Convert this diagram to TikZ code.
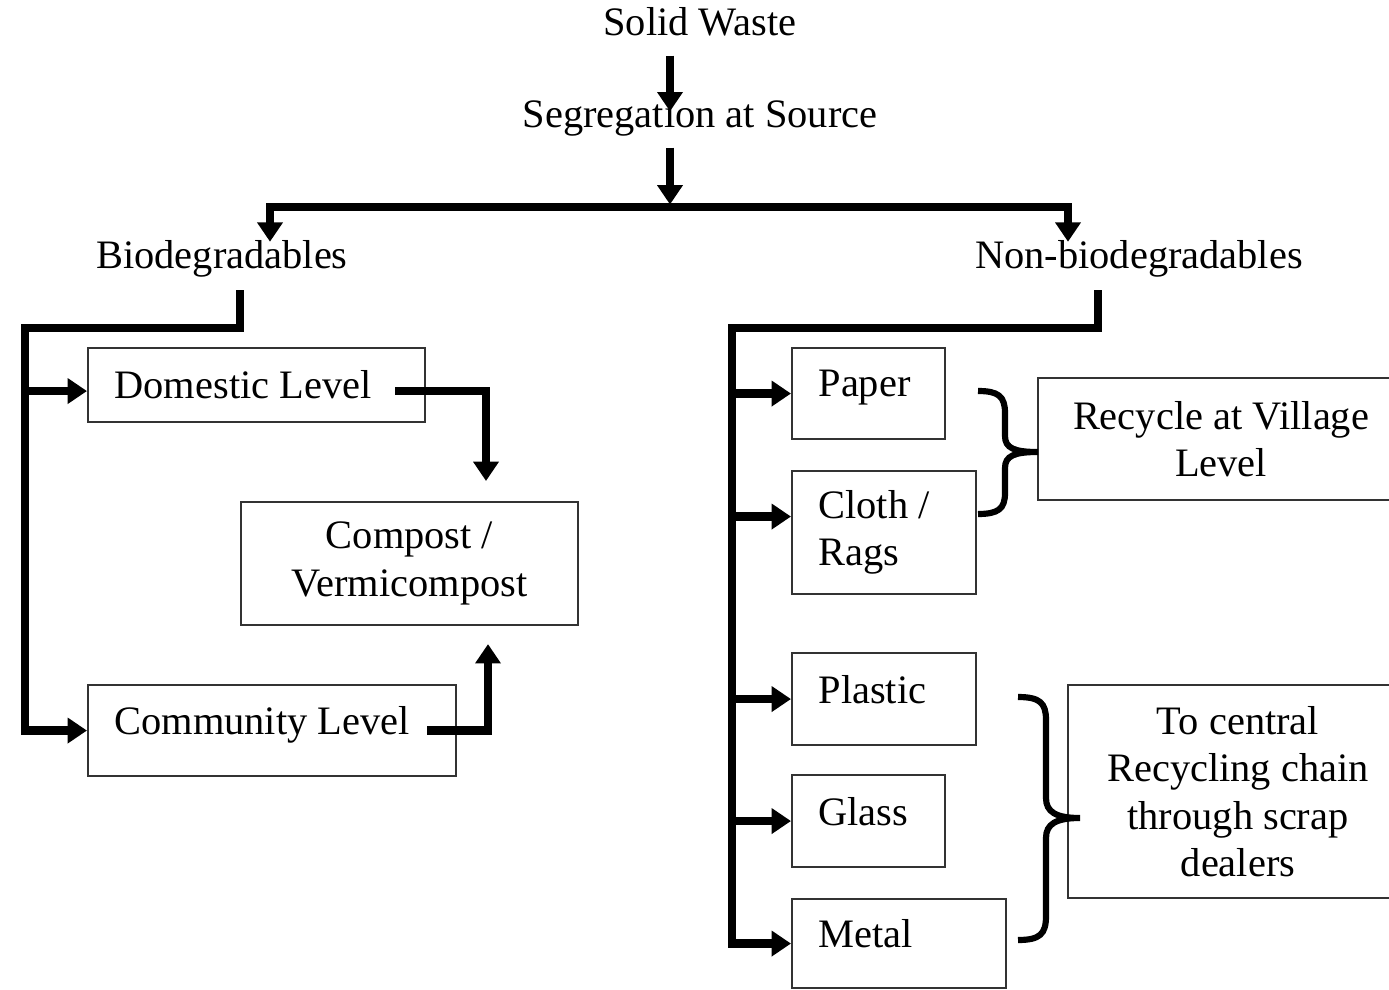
\documentclass[tikz,border=0pt]{standalone}
\usepackage{fontspec}
\setmainfont{Liberation Serif}
\usetikzlibrary{arrows.meta}

\begin{document}
\begin{tikzpicture}[x=0.02cm, y=-0.02cm, font=\fontsize{23}{27}\selectfont]
    \tikzstyle{node_text} = [inner sep=2pt, align=center]
    \tikzstyle{node_box} = [draw=black!80, line width=1.2pt, anchor=north west, inner xsep=0.53cm, inner ysep=0pt, align=flush left]
    \tikzstyle{node_boxc} = [node_box, align=flush center]
    \tikzstyle{node_up} = [text depth=0.4cm]
    \tikzstyle{arrow_black} = [-{Triangle[length=11pt, width=14pt]}, line width=5pt, black]
    \tikzstyle{brace_black} = [line width=3.5pt, black]

    \useasboundingbox (0,0) rectangle (1389,990);

    \node[node_text] (sw) at (700,22) {Solid Waste};
    \node[node_text] (seg) at (700,118) {Segregation at Source};
    \node[node_text] (bio) at (222,259) {Biodegradables};
    \node[node_text] (nonbio) at (1139,259) {Non-biodegradables};

    % biodegradables
    \node[node_box, minimum width=6.74cm, minimum height=1.48cm, text width=5.68cm] (dom) at (87,347) {Domestic Level};
    \node[node_box, node_up, minimum width=7.36cm, minimum height=1.82cm, text width=6.3cm] (comm) at (87,684) {Community Level};
    \node[node_boxc, minimum width=6.74cm, minimum height=2.46cm, text width=5.68cm] (comp) at (240,501) {Compost /\\ Vermicompost};

    % non-biodegradables
    \node[node_box, node_up, minimum width=3.06cm, minimum height=1.82cm, text width=2.0cm] (paper) at (791,347) {Paper};
    \node[node_box, minimum width=3.68cm, minimum height=2.46cm, text width=2.62cm] (cloth) at (791,470) {Cloth /\\ Rags};
    \node[node_box, node_up, minimum width=3.68cm, minimum height=1.84cm, text width=2.62cm] (plastic) at (791,652) {Plastic};
    \node[node_box, node_up, minimum width=3.06cm, minimum height=1.84cm, text width=2.0cm] (glass) at (791,774) {Glass};
    \node[node_box, node_up, minimum width=4.28cm, minimum height=1.78cm, text width=3.22cm] (metal) at (791,898) {Metal};
    \node[node_boxc, minimum width=7.32cm, minimum height=2.44cm, text width=6.26cm] (village) at (1037,377) {Recycle at Village\\ Level};
    \node[node_boxc, minimum width=6.8cm, minimum height=4.26cm, text width=5.74cm] (central) at (1067,684) {To central\\ Recycling chain\\ through scrap\\ dealers};

    \coordinate (split) at (670,207);
    \coordinate (barL) at (270,207);
    \coordinate (barR) at (1068,207);
    \coordinate (bioDrop) at (240,328);
    \coordinate (bioTrunk) at (25,328);
    \coordinate (nbDrop) at (1098,328);
    \coordinate (nbTrunk) at (732,328);
    \coordinate (domIn) at ([yshift=-0.12cm]dom.west);
    \coordinate (clothIn) at ([yshift=0.32cm]cloth.west);

    \draw[arrow_black, shorten <=0.31cm, shorten >=-0.3cm] (sw.south -| split) -- (seg.north -| split);
    \draw[arrow_black, shorten <=0.16cm, shorten >=0.05cm] (seg.south -| split) -- (split);
    \draw[arrow_black, shorten >=-0.1cm] (split) -| (bio.north -| barL);
    \draw[arrow_black, shorten >=-0.1cm] (split) -| (nonbio.north -| barR);

    \draw[arrow_black, shorten <=0.18cm] (bio.south -| bioDrop) -- (bioDrop) -- (bioTrunk) |- (comm.west);
    \draw[arrow_black] (bioTrunk |- domIn) -- (domIn);
    \draw[arrow_black, shorten >=0.4cm] ([xshift=-0.62cm, yshift=-0.12cm]dom.east) -| ([xshift=1.53cm]comp.north);
    \draw[arrow_black, shorten >=0.36cm] ([xshift=-0.6cm]comm.east) -| ([xshift=1.57cm]comp.south);

    \draw[arrow_black, shorten <=0.18cm] (nonbio.south -| nbDrop) -- (nbDrop) -- (nbTrunk) |- (metal.west);
    \foreach \n in {paper, plastic, glass}
        \draw[arrow_black] (nbTrunk |- \n.west) -- (\n.west);
    \draw[arrow_black] (nbTrunk |- clothIn) -- (clothIn);

    % braces
    \draw[brace_black] (978,391) .. controls (998,391) and (1005,396) .. (1005,413) -- (1005,436)
        .. controls (1005,448) and (1014,452) .. (1038,452)
        .. controls (1014,452) and (1005,456) .. (1005,468) -- (1005,493)
        .. controls (1005,509) and (998,514) .. (978,514);
    \draw[brace_black] (1018,697) .. controls (1040,697) and (1046,703) .. (1046,720) -- (1046,798)
        .. controls (1046,812) and (1056,818) .. (1080,818)
        .. controls (1056,818) and (1046,824) .. (1046,838) -- (1046,916)
        .. controls (1046,934) and (1040,940) .. (1018,940);

\end{tikzpicture}
\end{document}
